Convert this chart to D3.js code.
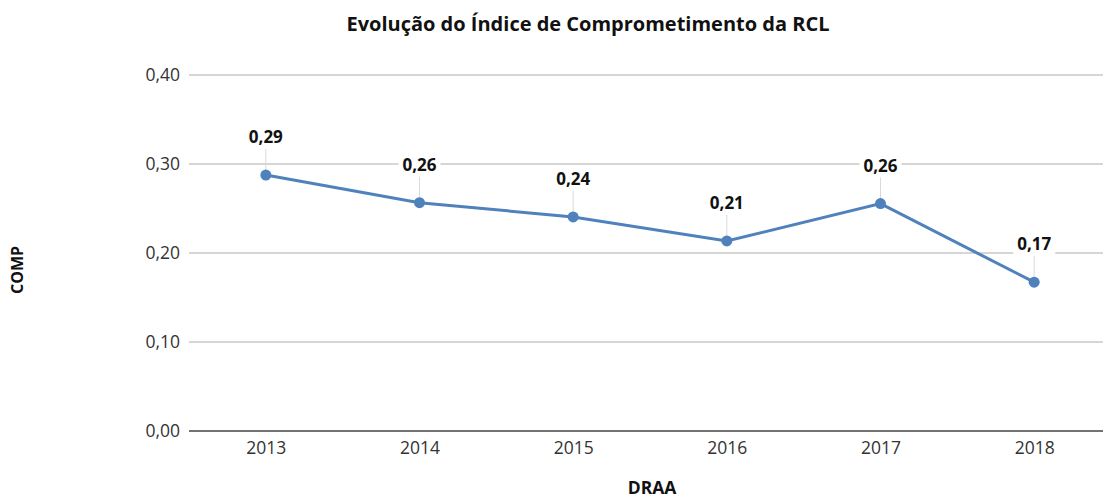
<!DOCTYPE html>
<html>
<head>
<meta charset="utf-8">
<script src="https://cdn.jsdelivr.net/npm/d3@7"></script>
<style>
  body { margin: 0; background: #fff; }
  svg { font-family: "Open Sans", "Noto Sans", sans-serif; }
  .grid line { stroke: #c8c8c8; stroke-width: 1.5; }
  .tick text { fill: #333; font-size: 17.5px; font-family: "Open Sans", "Noto Sans", sans-serif; }
</style>
</head>
<body>
<script>
// data
var years = ["2013", "2014", "2015", "2016", "2017", "2018"];
var comp = [0.2876, 0.2565, 0.2405, 0.2135, 0.2555, 0.1672];
var labels = ["0,29", "0,26", "0,24", "0,21", "0,26", "0,17"];
var yTicks = [0, 0.1, 0.2, 0.3, 0.4];

var width = 1103, height = 500;

var svg = d3.select("body").append("svg")
    .attr("width", width)
    .attr("height", height);

var x = d3.scalePoint()
    .domain(years)
    .range([189, 1111])
    .padding(0.5);

var y = d3.scaleLinear()
    .domain([0, 0.4])
    .range([431, 75]);

var fmt = function(d){ return d.toFixed(2).replace(".", ","); };

// title
svg.append("text")
    .attr("x", 588).attr("y", 31)
    .attr("text-anchor", "middle")
    .attr("font-size", 20).attr("font-weight", "bold")
    .attr("fill", "#111")
    .text("Evolução do Índice de Comprometimento da RCL");

// gridlines
svg.append("g").attr("class", "grid")
    .selectAll("line")
    .data(yTicks.filter(function(d){ return d > 0; }))
    .enter().append("line")
    .attr("x1", 189).attr("x2", width)
    .attr("y1", function(d){ return y(d); })
    .attr("y2", function(d){ return y(d); });

// y axis labels
var yAxis = svg.append("g")
    .attr("transform", "translate(189,0)")
    .call(d3.axisLeft(y).tickValues(yTicks).tickFormat(fmt).tickSize(0).tickPadding(9));
yAxis.select(".domain").remove();

// x axis
var xAxis = svg.append("g")
    .attr("transform", "translate(0,431)")
    .call(d3.axisBottom(x).tickSize(0).tickPadding(11));
xAxis.select(".domain").remove();
svg.append("line")
    .attr("x1", 189).attr("x2", width)
    .attr("y1", 431).attr("y2", 431)
    .attr("stroke", "#444").attr("stroke-width", 1.5);

// axis titles
svg.append("text")
    .attr("x", 652).attr("y", 494)
    .attr("text-anchor", "middle")
    .attr("font-size", 17.5).attr("font-weight", "bold").attr("fill", "#111")
    .text("DRAA");
svg.append("text")
    .attr("transform", "translate(23,270) rotate(-90)")
    .attr("text-anchor", "middle")
    .attr("font-size", 16).attr("font-weight", "bold").attr("fill", "#111")
    .text("COMP");

var pts = years.map(function(d, i){ return {year: d, v: comp[i], label: labels[i]}; });

// leader lines
svg.selectAll(".leader").data(pts).enter().append("line")
    .attr("class", "leader")
    .attr("x1", function(d){ return x(d.year); })
    .attr("x2", function(d){ return x(d.year); })
    .attr("y1", function(d){ return y(d.v) - 26; })
    .attr("y2", function(d){ return y(d.v); })
    .attr("stroke", "#d9d9d9").attr("stroke-width", 1);

// line
svg.append("path")
    .datum(pts)
    .attr("fill", "none")
    .attr("stroke", "#4f81bd")
    .attr("stroke-width", 3)
    .attr("d", d3.line()
        .x(function(d){ return x(d.year); })
        .y(function(d){ return y(d.v); }));

svg.selectAll(".dot").data(pts).enter().append("circle")
    .attr("class", "dot")
    .attr("cx", function(d){ return x(d.year); })
    .attr("cy", function(d){ return y(d.v); })
    .attr("r", 5.5)
    .attr("fill", "#4f81bd");

// data labels with white background
var lbl = svg.selectAll(".lbl").data(pts).enter().append("g")
    .attr("class", "lbl")
    .attr("transform", function(d){ return "translate(" + x(d.year) + "," + (y(d.v) - 38) + ")"; });
lbl.append("rect")
    .attr("x", -21).attr("y", -11).attr("width", 42).attr("height", 22)
    .attr("fill", "#fff");
lbl.append("text")
    .attr("text-anchor", "middle")
    .attr("dy", "0.35em")
    .attr("font-size", 17).attr("font-weight", "bold").attr("fill", "#111")
    .text(function(d){ return d.label; });
</script>
</body>
</html>
